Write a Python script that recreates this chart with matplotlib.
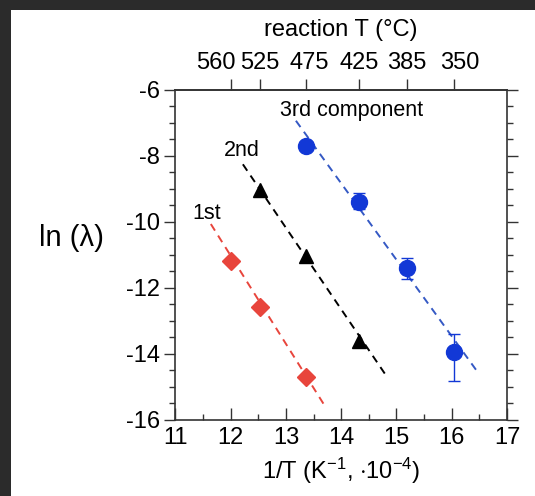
import numpy as np
import matplotlib
matplotlib.use("Agg")
import matplotlib.pyplot as plt
from matplotlib.ticker import MultipleLocator
from matplotlib.patches import Rectangle

plt.rcParams['font.family'] = ['Liberation Sans', 'DejaVu Sans']
plt.rcParams['mathtext.fontset'] = 'custom'
plt.rcParams['mathtext.rm'] = 'Liberation Sans'
plt.rcParams['mathtext.it'] = 'Liberation Sans:italic'
plt.rcParams['axes.unicode_minus'] = False

# reaction temperatures (deg C) shown on top axis
temps_c = [560, 525, 475, 425, 385, 350]

# 1st component (red diamonds)
t1 = [560, 525, 475]
y1 = [-11.18, -12.57, -14.72]
fit1_x = [11.64, 13.71]
fit1_y = [-10.07, -15.60]

# 2nd component (black triangles)
t2 = [525, 475, 425]
y2 = [-9.05, -11.03, -13.62]
fit2_x = [12.22, 14.82]
fit2_y = [-8.26, -14.68]

# 3rd component (blue circles) with asymmetric errors
t3 = [475, 425, 385, 350]
y3 = [-7.71, -9.40, -11.39, -13.94]
err3_lo = [0.1, 0.2, 0.35, 0.90]
err3_hi = [0.1, 0.27, 0.30, 0.53]
fit3_x = [13.18, 16.48]
fit3_y = [-6.94, -14.58]


def inv_t(tc):
    return 1e4 / (np.asarray(tc, dtype=float) + 273.15)


red = '#e8453c'
blue = '#1238d6'
blue_line = '#3559c4'
axcol = '#333333'

fig = plt.figure(figsize=(5.35, 4.96), dpi=100)
fig.patch.set_facecolor('#2b2b2b')
fig.patches.append(Rectangle((11 / 535, 0), 1, 1 - 10 / 496, transform=fig.transFigure,
                             facecolor='white', edgecolor='none', zorder=-1))

ax = fig.add_axes([0.328, 0.1538, 0.6196, 0.6653])

ax.plot(fit1_x, fit1_y, '--', color=red, lw=1.4, dashes=(4, 3))
ax.plot(fit2_x, fit2_y, '--', color='black', lw=1.4, dashes=(4, 3))
ax.plot(fit3_x, fit3_y, '--', color=blue_line, lw=1.4, dashes=(4, 3))

ax.plot(inv_t(t1), y1, 'D', color=red, ms=9.5, mec=red)
ax.plot(inv_t(t2), y2, '^', color='black', ms=10)
ax.errorbar(inv_t(t3), y3, yerr=[err3_lo, err3_hi], fmt='o', color=blue, ms=11.5,
            ecolor=blue, elinewidth=1.0, capsize=4, capthick=1.0)

ax.text(11.57, -9.74, '1st', fontsize=15.5, ha='center', va='center')
ax.text(12.2, -7.83, '2nd', fontsize=15.5, ha='center', va='center')
ax.text(14.19, -6.64, '3rd component', fontsize=15.5, ha='center', va='center')

ax.set_xlim(11, 17)
ax.set_ylim(-16, -6)
ax.xaxis.set_major_locator(MultipleLocator(1))
ax.xaxis.set_minor_locator(MultipleLocator(0.5))
ax.yaxis.set_major_locator(MultipleLocator(2))
ax.yaxis.set_minor_locator(MultipleLocator(0.5))

for s in ax.spines.values():
    s.set_color(axcol)
    s.set_linewidth(1.2)

ax.tick_params(axis='x', which='both', direction='in', top=False, bottom=True,
               color=axcol, labelsize=17, pad=5)
ax.tick_params(axis='x', which='major', length=8.5, width=1)
ax.tick_params(axis='x', which='minor', length=4, width=1)
ax.tick_params(axis='y', which='both', direction='out', left=True, right=True,
               color=axcol, labelsize=17, pad=3)
ax.tick_params(axis='y', which='major', length=8, width=1)
ax.tick_params(axis='y', which='minor', length=4.5, width=1)

ax.set_xlabel(r'1/T (K$^{\mathregular{-1}}$, $\cdot$10$^{\mathregular{-4}}$)', fontsize=17, labelpad=5)
ax.set_ylabel('ln (λ)', fontsize=21, rotation=0, va='center', ha='center')
ax.yaxis.set_label_coords(-0.313, 0.55)

# top axis: reaction temperature
top = ax.secondary_xaxis('top')
top.set_xticks(inv_t(temps_c))
top.set_xticklabels([])
top.tick_params(axis='x', which='major', direction='out', length=8, width=1, color=axcol)
top.tick_params(axis='x', which='minor', length=0)
top.spines['top'].set_color(axcol)
top.spines['top'].set_linewidth(1.2)
label_shift = {560: -10.5, 475: 2, 350: 4}
for tc in temps_c:
    ax.annotate(str(tc), xy=(inv_t(tc), 1), xycoords=('data', 'axes fraction'),
                xytext=(label_shift.get(tc, 0), 19), textcoords='offset points',
                ha='center', va='center', fontsize=17)
ax.text(0.5, 1.18, 'reaction T (°C)', transform=ax.transAxes, ha='center',
        va='center', fontsize=17)

fig.savefig('out.png', dpi=100, facecolor=fig.get_facecolor())
